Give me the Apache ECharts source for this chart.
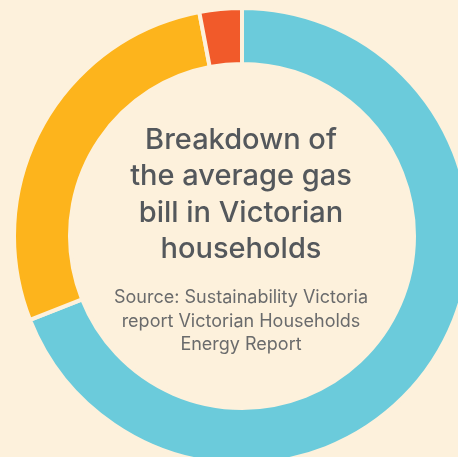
<!DOCTYPE html>
<html>
<head>
<meta charset="utf-8">
<script src="https://cdn.jsdelivr.net/npm/echarts@6/dist/echarts.min.js"></script>
<style>
  html, body { margin: 0; padding: 0; background: #FDF1DC; }
  #main { width: 458px; height: 457px; }
</style>
</head>
<body>
<div id="main"></div>
<script>
// 数据
var categories = ['Space heating', 'Water heating', 'Cooking'];
var values = [69, 28, 3];
var colors = ['#6BCBDB', '#FDB41C', '#F15A2A'];

var titleLines = ['Breakdown of', 'the average gas', 'bill in Victorian', 'households'];
var sourceLines = ['Source: Sustainability Victoria', 'report Victorian Households', 'Energy Report'];

var myChart = echarts.init(document.getElementById('main'));

myChart.setOption({
  backgroundColor: '#FDF1DC',
  animation: false,
  color: colors,
  graphic: [
    {
      type: 'text',
      x: 241,
      y: 122,
      style: {
        text: titleLines.join('\n'),
        textAlign: 'center',
        textVerticalAlign: 'top',
        fill: '#54585C',
        fontFamily: 'Inter',
        fontWeight: 500,
        fontSize: 29,
        lineHeight: 36.5
      }
    },
    {
      type: 'text',
      x: 241,
      y: 286,
      style: {
        text: sourceLines.join('\n'),
        textAlign: 'center',
        textVerticalAlign: 'top',
        fill: '#6A6B6C',
        fontFamily: 'Inter',
        fontSize: 18,
        lineHeight: 23.5
      }
    }
  ],
  series: [
    {
      type: 'pie',
      center: [242, 236],
      radius: [172, 228],
      startAngle: 90,
      clockwise: true,
      label: { show: false },
      labelLine: { show: false },
      emphasis: { disabled: true },
      itemStyle: {
        borderColor: '#FDF1DC',
        borderWidth: 4
      },
      data: categories.map(function (c, i) {
        return { name: c, value: values[i] };
      })
    }
  ]
});
</script>
</body>
</html>
